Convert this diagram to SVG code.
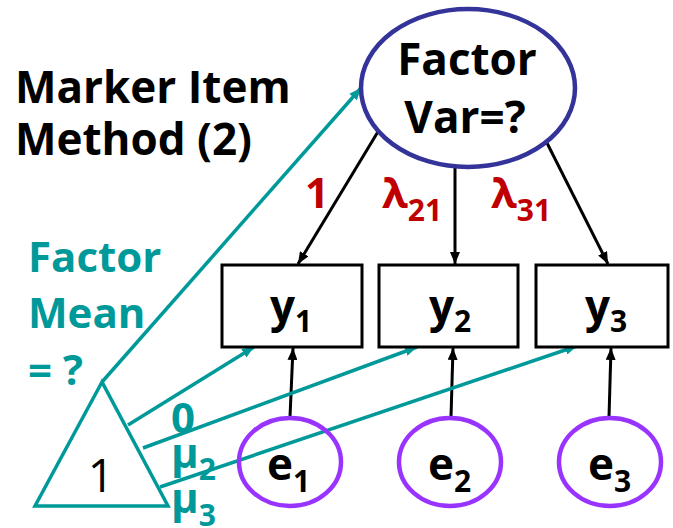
<svg xmlns="http://www.w3.org/2000/svg" width="673" height="528" viewBox="0 0 673 528">
<style>
text{font-family:"Open Sans","Noto Sans","DejaVu Sans",sans-serif;}
.b{font-weight:bold;font-size:44px;fill:#000;}
.t{font-weight:bold;font-size:42px;fill:#009999;}
.r{font-weight:bold;font-size:42px;fill:#c00000;}
.box{fill:#fff;stroke:#000;stroke-width:3;}
.blk{stroke:#000;stroke-width:3;fill:none;}
.teal{stroke:#009999;stroke-width:3.5;fill:none;}
</style>
<defs>
<marker id="ab" viewBox="0 0 12 10" refX="12" refY="5" markerWidth="12" markerHeight="10" markerUnits="userSpaceOnUse" orient="auto"><path d="M0,0 L12,5 L0,10 z" fill="#000"/></marker>
<marker id="at" viewBox="0 0 12 10" refX="12" refY="5" markerWidth="12" markerHeight="10" markerUnits="userSpaceOnUse" orient="auto"><path d="M0,0 L12,5 L0,10 z" fill="#009999"/></marker>
</defs>
<g id="title"><text class="b" x="15" y="103">Marker Item</text><text class="b" x="15" y="155">Method (2)</text></g>
<g id="factor-mean-label"><text class="t" x="28" y="272">Factor</text><text class="t" x="28" y="328">Mean</text><text class="t" x="28" y="385">= ?</text></g>
<g id="connectors">
<line class="blk" x1="379" y1="130" x2="298" y2="264" marker-end="url(#ab)"/>
<line class="blk" x1="455" y1="167" x2="455" y2="264" marker-end="url(#ab)"/>
<line class="blk" x1="547" y1="143" x2="608" y2="264" marker-end="url(#ab)"/>
<line class="blk" x1="290" y1="417" x2="293" y2="348" marker-end="url(#ab)"/>
<line class="blk" x1="451" y1="417" x2="453" y2="348" marker-end="url(#ab)"/>
<line class="blk" x1="609" y1="417" x2="611" y2="348" marker-end="url(#ab)"/>
<line class="teal" x1="102" y1="382" x2="361" y2="88" marker-end="url(#at)"/>
<line class="teal" x1="128" y1="425" x2="254" y2="347" marker-end="url(#at)"/>
<line class="teal" x1="143" y1="448" x2="417" y2="347" marker-end="url(#at)"/>
<line class="teal" x1="160" y1="487" x2="577" y2="346" marker-end="url(#at)"/>
</g>
<g id="factor"><ellipse cx="468" cy="88" rx="107" ry="79" fill="#fff" stroke="#333399" stroke-width="4.5"/><text class="b" x="467" y="75" text-anchor="middle">Factor</text><text class="b" x="465" y="133" text-anchor="middle">Var=?</text></g>
<g id="y1"><rect class="box" x="222" y="265" width="140" height="82"/><text class="b" x="270" y="322">y<tspan font-size="30" dy="10">1</tspan></text></g>
<g id="y2"><rect class="box" x="379" y="265" width="139" height="82"/><text class="b" x="429" y="322">y<tspan font-size="30" dy="10">2</tspan></text></g>
<g id="y3"><rect class="box" x="536" y="265" width="132" height="82"/><text class="b" x="585" y="322">y<tspan font-size="30" dy="10">3</tspan></text></g>
<g id="e1"><ellipse cx="290" cy="462" rx="51" ry="44" fill="none" stroke="#9933ff" stroke-width="4.5"/><text class="b" x="267" y="480">e<tspan font-size="30" dy="12">1</tspan></text></g>
<g id="e2"><ellipse cx="450" cy="462" rx="51" ry="44" fill="none" stroke="#9933ff" stroke-width="4.5"/><text class="b" x="428" y="480">e<tspan font-size="30" dy="12">2</tspan></text></g>
<g id="e3"><ellipse cx="610" cy="462" rx="51" ry="44" fill="none" stroke="#9933ff" stroke-width="4.5"/><text class="b" x="588" y="480">e<tspan font-size="30" dy="12">3</tspan></text></g>
<g id="constant"><polygon points="102,382 35,506 168,506" fill="none" stroke="#009999" stroke-width="3.5"/><text x="101" y="492" text-anchor="middle" font-size="46" fill="#000">1</text></g>
<g id="labels">
<text class="r" x="305" y="208">1</text>
<text class="r" x="382" y="208">λ<tspan font-size="30" dy="13">21</tspan></text>
<text class="r" x="491" y="208">λ<tspan font-size="30" dy="13">31</tspan></text>
<text class="t" x="171" y="433">0</text>
<text class="t" x="171" y="468">μ<tspan font-size="30" dy="12">2</tspan></text>
<text class="t" x="171" y="513">μ<tspan font-size="30" dy="13">3</tspan></text>
</g>
</svg>
